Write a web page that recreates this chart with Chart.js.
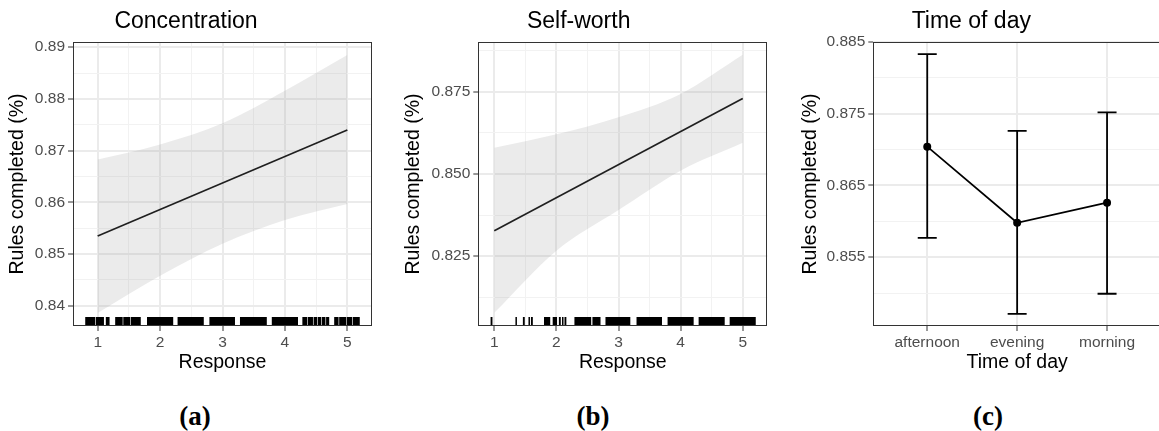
<!DOCTYPE html>
<html><head><meta charset="utf-8">
<script src="https://cdn.jsdelivr.net/npm/chart.js@4.4.0/dist/chart.umd.min.js"></script>
<style>
html,body{margin:0;padding:0;background:#fff;width:1159px;height:431px;overflow:hidden;position:relative;}
canvas{position:absolute;top:0;}
#c1{left:0px}
#c2{left:390px}
#c3{left:780px}
.lab{position:absolute;top:416px;font-family:"Liberation Serif","Times New Roman",serif;font-weight:bold;font-size:27px;line-height:27px;transform:translate(-50%,-50%);color:#000;white-space:nowrap;}
</style></head><body>
<canvas id="c1" width="380" height="380"></canvas>
<canvas id="c2" width="385" height="380"></canvas>
<canvas id="c3" width="385" height="380"></canvas>
<div class="lab" style="left:195px">(a)</div>
<div class="lab" style="left:593px">(b)</div>
<div class="lab" style="left:988px">(c)</div>
<script>
// ---------- data ----------
const responseX = [1, 2, 3, 4, 5];
const fitX = [1, 5];
const xTickVals = [1, 2, 3, 4, 5];
const xTickLabels = ['1', '2', '3', '4', '5'];
const xMinorVals = [1.5, 2.5, 3.5, 4.5];

const concFit = [0.8535, 0.8740];
const concUpper = [0.8683, 0.8712, 0.8753, 0.8816, 0.8885];
const concLower = [0.8386, 0.8458, 0.8520, 0.8566, 0.8597];
const concRug = [[0.80,0.96],[0.97,1.10],[1.13,1.19],[1.28,1.40],[1.41,1.52],[1.53,1.69],
  [1.79,2.21],[2.28,2.70],[2.79,3.20],[3.28,3.71],[3.79,4.21],
  [4.28,4.36],[4.37,4.45],[4.46,4.52],[4.53,4.58],[4.59,4.65],[4.66,4.71],
  [4.79,4.86],[4.87,4.98],[4.99,5.08],[5.09,5.20]];
const concYTicks = [0.84, 0.85, 0.86, 0.87, 0.88, 0.89];
const concYLabels = ['0.84', '0.85', '0.86', '0.87', '0.88', '0.89'];
const concYMinor = [0.845, 0.855, 0.865, 0.875, 0.885];

const selfFit = [0.8327, 0.8730];
const selfUpper = [0.8580, 0.8621, 0.8673, 0.8744, 0.8863];
const selfLower = [0.8077, 0.8266, 0.8390, 0.8510, 0.8595];
const selfRug = [[0.94,0.97],[1.34,1.36],[1.46,1.49],[1.55,1.57],[1.59,1.62],[1.80,1.90],
  [1.94,2.01],[2.04,2.07],[2.09,2.11],[2.13,2.16],[2.29,2.56],[2.58,2.71],
  [2.79,3.19],[3.29,3.70],[3.79,4.21],[4.29,4.71],[4.79,5.21]];
const selfYTicks = [0.825, 0.850, 0.875];
const selfYLabels = ['0.825', '0.850', '0.875'];
const selfYMinor = [0.8125, 0.8375, 0.8625, 0.8875];

const timeCats = ['afternoon', 'evening', 'morning'];
const timeMean = [0.8704, 0.8598, 0.8626];
const timeLow = [0.8577, 0.8471, 0.8499];
const timeHigh = [0.8833, 0.8726, 0.8752];
const timeYTicks = [0.855, 0.865, 0.875, 0.885];
const timeYLabels = ['0.855', '0.865', '0.875', '0.885'];
const timeYMinor = [0.850, 0.860, 0.870, 0.880];

// ---------- styles ----------
const FONT = '"Liberation Sans", Arial, sans-serif';
const GRID = '#ebebeb';
const GRID_MINOR = '#f2f2f2';
const DARK = '#333333';
const RIBBON = 'rgba(153,153,153,0.2)';

function near(list, v) { return list.findIndex(m => Math.abs(m - v) < 1e-9); }

function makeScale(opts) {
  const {axis, min, max, major, labels, minor, size, title, titlePad} = opts;
  const all = major.concat(minor).sort((a, b) => a - b);
  const isMaj = c => c.tick && near(major, c.tick.value) >= 0;
  return {
    type: 'linear', min, max,
    afterBuildTicks: sc => { sc.ticks = all.map(v => ({value: v})); },
    afterFit: sc => { if (axis === 'x') sc.height = size; else sc.width = size; },
    ticks: {
      autoSkip: false, maxRotation: 0, minRotation: 0,
      color: '#4d4d4d', font: {family: FONT, size: 15.5},
      padding: axis === 'x' ? 2 : 3,
      callback: v => { const i = near(major, v); return i >= 0 ? labels[i] : ''; }
    },
    grid: {
      color: c => isMaj(c) ? GRID : GRID_MINOR,
      lineWidth: c => isMaj(c) ? 2 : 1,
      tickColor: c => isMaj(c) ? DARK : 'rgba(0,0,0,0)',
      tickLength: 5, tickWidth: 1
    },
    border: {display: false},
    title: {display: true, text: title, color: '#000', font: {family: FONT, size: 19.5},
      padding: axis === 'x' ? {top: 0, bottom: titlePad} : {top: titlePad, bottom: 0}}
  };
}

function framePlugin(rug, errs) {
  return {
    id: 'frame',
    beforeDatasetsDraw(chart) {
      if (!errs) return;
      const {ctx, scales: {x, y}} = chart;
      ctx.save();
      ctx.strokeStyle = '#000'; ctx.lineWidth = 1.8;
      errs.cats.forEach((c, i) => {
        const px = x.getPixelForValue(i);
        const y0 = y.getPixelForValue(errs.lo[i]);
        const y1 = y.getPixelForValue(errs.hi[i]);
        ctx.beginPath();
        ctx.moveTo(px, y0); ctx.lineTo(px, y1);
        ctx.moveTo(px - 9.5, y0); ctx.lineTo(px + 9.5, y0);
        ctx.moveTo(px - 9.5, y1); ctx.lineTo(px + 9.5, y1);
        ctx.stroke();
      });
      ctx.restore();
    },
    afterDatasetsDraw(chart) {
      const {ctx, chartArea: a, scales: {x}} = chart;
      ctx.save();
      if (rug) {
        ctx.fillStyle = '#000';
        const len = 9;
        rug.forEach(([lo, hi]) => {
          const x0 = x.getPixelForValue(lo), x1 = x.getPixelForValue(hi);
          ctx.fillRect(x0, a.bottom - len, Math.max(x1 - x0, 1.5), len);
        });
      }
      ctx.strokeStyle = DARK; ctx.lineWidth = 1;
      ctx.strokeRect(Math.round(a.left) + 0.5, Math.round(a.top) + 0.5,
        Math.round(a.right - a.left) - 1, Math.round(a.bottom - a.top) - 1);
      ctx.restore();
    }
  };
}

const titleOpts = text => ({display: true, text, color: '#000',
  font: {family: FONT, size: 23, weight: 'normal'}, padding: {top: 7.7, bottom: 6.7}});

function smoothChart(id, cfg) {
  const pts = (xs, ys) => xs.map((x, i) => ({x, y: ys[i]}));
  return new Chart(document.getElementById(id), {
    type: 'line',
    data: {datasets: [
      {data: pts(responseX, cfg.upper), borderWidth: 0, pointRadius: 0, fill: '+1',
        backgroundColor: RIBBON, cubicInterpolationMode: 'monotone'},
      {data: pts(responseX, cfg.lower), borderWidth: 0, pointRadius: 0, fill: false,
        cubicInterpolationMode: 'monotone'},
      {data: pts(fitX, cfg.fit), borderColor: '#000', borderWidth: 1.7, pointRadius: 0, fill: false}
    ]},
    options: {
      responsive: false, animation: false, devicePixelRatio: 1,
      layout: {padding: {left: 0, right: cfg.padRight, top: 0, bottom: 0}},
      plugins: {legend: {display: false}, tooltip: {enabled: false}, title: titleOpts(cfg.title)},
      scales: {
        x: makeScale({axis: 'x', min: cfg.xmin, max: cfg.xmax, major: xTickVals, labels: xTickLabels,
          minor: xMinorVals, size: 54, title: 'Response', titlePad: 5.3}),
        y: makeScale({axis: 'y', min: cfg.ymin, max: cfg.ymax, major: cfg.yTicks, labels: cfg.yLabels,
          minor: cfg.yMinor, size: cfg.yWidth, title: 'Rules completed (%)', titlePad: cfg.yTitlePad})
      }
    },
    plugins: [framePlugin(cfg.rug, null)]
  });
}

smoothChart('c1', {title: 'Concentration', upper: concUpper, lower: concLower, fit: concFit, rug: concRug,
  xmin: 0.604, xmax: 5.396, ymin: 0.8361, ymax: 0.8910, yTicks: concYTicks, yLabels: concYLabels,
  yMinor: concYMinor, yWidth: 73, yTitlePad: 6.3, padRight: 8});

smoothChart('c2', {title: 'Self-worth', upper: selfUpper, lower: selfLower, fit: selfFit, rug: selfRug,
  xmin: 0.742, xmax: 5.396, ymin: 0.8037, ymax: 0.8902, yTicks: selfYTicks, yLabels: selfYLabels,
  yMinor: selfYMinor, yWidth: 88.3, yTitlePad: 12.3, padRight: 7.7});

new Chart(document.getElementById('c3'), {
  type: 'line',
  data: {datasets: [
    {data: timeCats.map((c, i) => ({x: i, y: timeMean[i]})), borderColor: '#000', borderWidth: 1.7,
      pointRadius: 4, pointBackgroundColor: '#000', pointBorderColor: '#000', pointBorderWidth: 0, fill: false}
  ]},
  options: {
    responsive: false, animation: false, devicePixelRatio: 1,
    layout: {padding: {left: 0, right: 2.4, top: 0, bottom: 0}},
    plugins: {legend: {display: false}, tooltip: {enabled: false}, title: titleOpts('Time of day')},
    scales: {
      x: makeScale({axis: 'x', min: -0.6, max: 2.6, major: [0, 1, 2], labels: timeCats, minor: [],
        size: 54, title: 'Time of day', titlePad: 5.3}),
      y: makeScale({axis: 'y', min: 0.8454, max: 0.8850, major: timeYTicks, labels: timeYLabels,
        minor: timeYMinor, size: 93.3, title: 'Rules completed (%)', titlePad: 19.3})
    }
  },
  plugins: [framePlugin(null, {cats: timeCats, lo: timeLow, hi: timeHigh})]
});
</script>
</body></html>
